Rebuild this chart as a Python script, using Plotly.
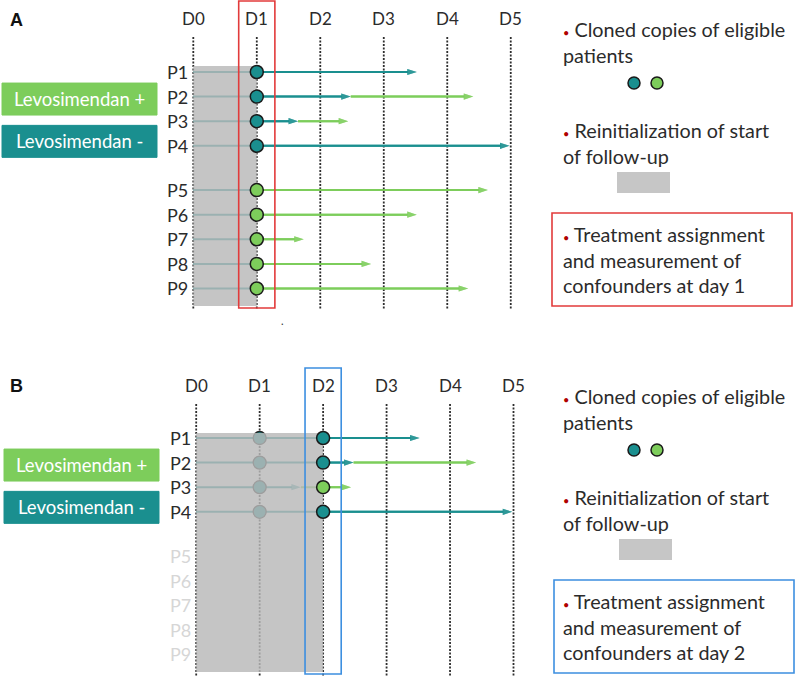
import plotly.graph_objects as go

# ---------------- data ----------------
days = [0, 1, 2, 3, 4, 5]
day_labels = ["D0", "D1", "D2", "D3", "D4", "D5"]
patients = ["P1", "P2", "P3", "P4", "P5", "P6", "P7", "P8", "P9"]
# end of follow-up (days) while NOT treated with levosimendan (teal arm)
untreated_end = [3.52, 2.48, 1.65, 4.98, None, None, None, None, None]
# end of follow-up (days) while treated with levosimendan (green arm)
treated_end = [None, 4.41, 2.44, None, 4.64, 3.52, 1.74, 2.80, 4.33]
# patients still cloned / eligible at the day-2 assignment
eligible_day2 = [1, 1, 1, 1, 0, 0, 0, 0, 0]
assignment_days = [1, 2]
arm_labels = ["Levosimendan +", "Levosimendan -"]
legend_items = ["Cloned copies of eligible<br>patients",
                "Reinitialization of start<br>of follow-up"]
box_texts = ["Treatment assignment<br>and measurement of<br>confounders at day 1",
             "Treatment assignment<br>and measurement of<br>confounders at day 2"]

# ---------------- style ----------------
W, H = 796, 680
TEAL = "#1a8f8f"
GREEN = "#7dcd5b"
OVERLAY = "rgba(184,184,184,0.82)"
FONT = "Lato, 'Open Sans', sans-serif"
TXT = "#2b2b2b"
BULLET = "<span style='color:#b00000;font-size:11px'>•</span> "
RSIZE = 19.8


def px(x):
    return x / W


def py(y):
    return 1 - y / H


def row_pos(i):
    return i + (0.8 if i >= 4 else 0)


fig = go.Figure()

panels = [
    dict(xa="x", ya="y", x0=193.3, dx=63.49, y0=72, dy=24.6, ydom=[0.5, 1.0],
         ptop=0, pbot=340, vtop=37, vbot=310, rtop=66, rbot=306,
         box=(1, 308), box_col="#e23b3b", assign=assignment_days[0], label="A", label_y=20),
    dict(xa="x2", ya="y2", x0=196.2, dx=63.46, y0=438, dy=24.6, ydom=[0.0, 0.5],
         ptop=340, pbot=680, vtop=404, vbot=677, rtop=433, rbot=672,
         box=(368, 674), box_col="#3d8fe0", assign=assignment_days[1], label="B", label_y=386),
]


def segments(i):
    segs = []
    start = 1
    if untreated_end[i] is not None:
        segs.append((start, untreated_end[i], TEAL))
        start = untreated_end[i]
    if treated_end[i] is not None:
        segs.append((start, treated_end[i], GREEN))
    return segs


def add_seg(r, xa, ya, a, b, col):
    fig.add_trace(go.Scatter(
        x=[a, b], y=[r, r], xaxis=xa, yaxis=ya,
        mode="lines+markers", line=dict(color=col, width=2),
        marker=dict(symbol=["circle", "arrow"], size=[0, 10], color=col,
                    angleref="previous", line=dict(width=0)),
        hoverinfo="skip"))


layout_axes = {}
annotations = []
shapes = []


def ann(**kw):
    base = dict(showarrow=False, xanchor="center", yanchor="middle")
    base.update(kw)
    annotations.append(base)


for k, P in enumerate(panels):
    xa, ya = P["xa"], P["ya"]
    assign = P["assign"]
    to_r = lambda ypx, P=P: (ypx - P["y0"]) / P["dy"]
    included = [True] * 9 if k == 0 else [bool(e) for e in eligible_day2]

    xname = "xaxis" if xa == "x" else "xaxis2"
    yname = "yaxis" if ya == "y" else "yaxis2"
    layout_axes[xname] = dict(range=[-P["x0"] / P["dx"], (W - P["x0"]) / P["dx"]],
                              domain=[0, 1], visible=False, anchor=ya, fixedrange=True)
    layout_axes[yname] = dict(range=[to_r(P["pbot"]), to_r(P["ptop"])],
                              domain=P["ydom"], visible=False, anchor=xa, fixedrange=True)

    # dotted day lines
    for d in days:
        fig.add_trace(go.Scatter(x=[d, d], y=[to_r(P["vtop"]), to_r(P["vbot"])],
                                 xaxis=xa, yaxis=ya, mode="lines",
                                 line=dict(color="#2e2e2e", width=1.8, dash="2px,1.5px"),
                                 hoverinfo="skip"))

    # pre-assignment and full follow-up (under the overlay)
    for i in range(9):
        if not included[i]:
            continue
        r = row_pos(i)
        fig.add_trace(go.Scatter(x=[0, 1], y=[r, r], xaxis=xa, yaxis=ya, mode="lines",
                                 line=dict(color=TEAL, width=2), hoverinfo="skip"))
        for (a, b, col) in segments(i):
            add_seg(r, xa, ya, a, b, col)
    if assign > 1:
        xs, ys, cs = [], [], []
        for i in range(9):
            if included[i]:
                xs.append(1)
                ys.append(row_pos(i))
                cs.append(TEAL if untreated_end[i] is not None else GREEN)
        fig.add_trace(go.Scatter(x=xs, y=ys, xaxis=xa, yaxis=ya, mode="markers",
                                 marker=dict(size=13, color=cs, line=dict(color="#222", width=1.3)),
                                 hoverinfo="skip"))

    # overlay (reinitialization of start of follow-up)
    r0, r1 = to_r(P["rtop"]), to_r(P["rbot"])
    fig.add_trace(go.Scatter(x=[0, assign, assign, 0, 0], y=[r0, r0, r1, r1, r0],
                             xaxis=xa, yaxis=ya, mode="lines", fill="toself",
                             fillcolor=OVERLAY, line=dict(width=0), hoverinfo="skip"))

    # follow-up after assignment
    xs, ys, cs = [], [], []
    for i in range(9):
        if not included[i]:
            continue
        r = row_pos(i)
        col_at = None
        for (a, b, col) in segments(i):
            if b > assign:
                add_seg(r, xa, ya, max(a, assign), b, col)
                if a <= assign:
                    col_at = col
        xs.append(assign)
        ys.append(r)
        cs.append(col_at)
    fig.add_trace(go.Scatter(x=xs, y=ys, xaxis=xa, yaxis=ya, mode="markers",
                             marker=dict(size=13, color=cs, line=dict(color="#1a1a1a", width=1.5)),
                             hoverinfo="skip"))

    shapes.append(dict(type="rect", xref=xa, yref="paper",
                       x0=assign - 0.285, x1=assign + 0.285,
                       y0=py(P["box"][1]), y1=py(P["box"][0]),
                       line=dict(color=P["box_col"], width=1.6), fillcolor="rgba(0,0,0,0)"))

    for d, lab in zip(days, day_labels):
        ann(x=d, y=to_r(P["vtop"] - 19), xref=xa, yref=ya, text=lab,
            font=dict(size=17, color=TXT, family=FONT))
    for i, lab in enumerate(patients):
        ann(x=0, y=row_pos(i), xref=xa, yref=ya, text=lab, xanchor="right", xshift=-3,
            font=dict(size=18, color=TXT if included[i] else "#d6d6d6", family=FONT))

    ann(x=px(8), y=py(P["label_y"]), xref="paper", yref="paper",
        text="<b>%s</b>" % P["label"], xanchor="left",
        font=dict(size=18, color="#111", family="Arial, sans-serif"))

    gy = P["y0"] + 1.1 * P["dy"]
    ty = P["y0"] + 2.82 * P["dy"]
    for lab, col, cy in [(arm_labels[0], GREEN, gy), (arm_labels[1], TEAL, ty)]:
        shapes.append(dict(type="rect", xref="paper", yref="paper",
                           x0=px(2 + 2 * k), x1=px(157 + 2 * k), y0=py(cy + 16), y1=py(cy - 16),
                           fillcolor=col, line=dict(color=col, width=1)))
        ann(x=px(79.5 + 2 * k), y=py(cy), xref="paper", yref="paper", text=lab,
            font=dict(size=18.5, color="white", family=FONT))

    off = 0 if k == 0 else 367
    ann(x=px(561), y=py(42 + off), xref="paper", yref="paper",
        text=BULLET + legend_items[0], align="left", xanchor="left",
        font=dict(size=RSIZE, color=TXT, family=FONT))
    for cx, col in [(634, TEAL), (657, GREEN)]:
        shapes.append(dict(type="circle", xref="paper", yref="paper",
                           x0=px(cx - 6), x1=px(cx + 6), y0=py(83 + off + 6), y1=py(83 + off - 6),
                           fillcolor=col, line=dict(color="#1a1a1a", width=1.5)))
    ann(x=px(561), y=py(143 + off), xref="paper", yref="paper",
        text=BULLET + legend_items[1], align="left", xanchor="left",
        font=dict(size=RSIZE, color=TXT, family=FONT))
    shapes.append(dict(type="rect", xref="paper", yref="paper",
                       x0=px(617 + 2 * k), x1=px(670 + 2 * k), y0=py(193 + off), y1=py(172 + off),
                       fillcolor="#c6c6c6", line=dict(width=0)))
    shapes.append(dict(type="rect", xref="paper", yref="paper",
                       x0=px(552 + 2 * k), x1=px(792 + 2 * k), y0=py(306 + off), y1=py(213 + off),
                       fillcolor="rgba(0,0,0,0)", line=dict(color=P["box_col"], width=1.6)))
    ann(x=px(561), y=py(259 + off), xref="paper", yref="paper",
        text=BULLET + box_texts[k], align="left", xanchor="left",
        font=dict(size=RSIZE, color=TXT, family=FONT))

ann(x=px(282), y=py(320), xref="paper", yref="paper", text=".",
    font=dict(size=11, color="#333", family=FONT))

fig.update_layout(
    width=W, height=H, margin=dict(l=0, r=0, t=0, b=0),
    paper_bgcolor="white", plot_bgcolor="white", showlegend=False,
    annotations=annotations, shapes=shapes, **layout_axes)

fig.write_html("out.html", config={"displayModeBar": False},
               post_script="document.body.style.margin='0px';")
